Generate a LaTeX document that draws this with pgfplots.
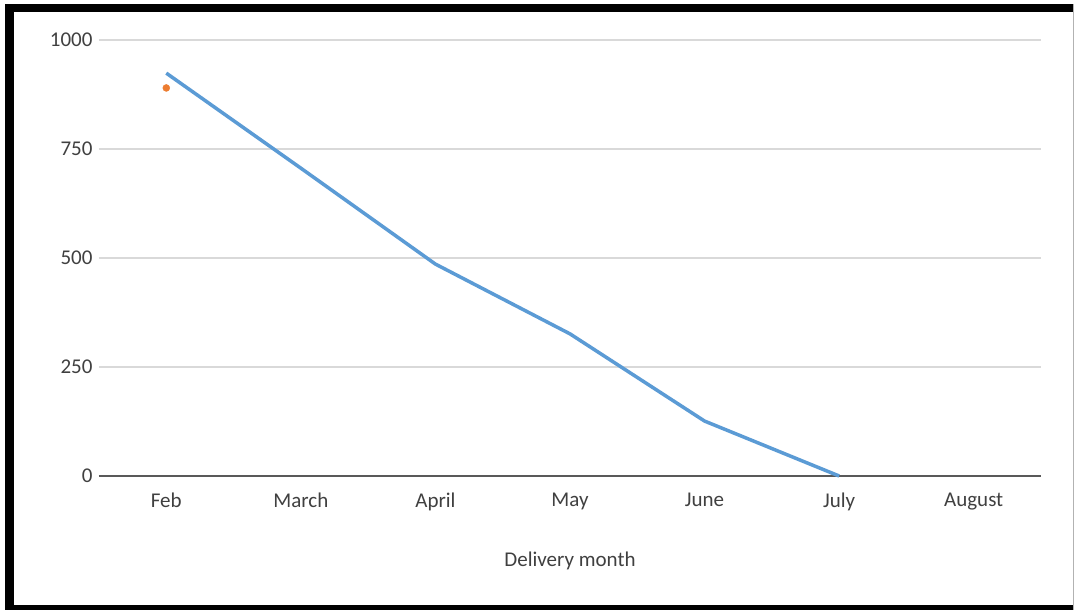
\documentclass[border=0pt]{standalone}
\usepackage{pgfplots}
\pgfplotsset{compat=1.18}
\usepackage{fontspec}
\setmainfont{Carlito}
\definecolor{lineblue}{RGB}{91,155,213}
\definecolor{dotorange}{RGB}{237,125,49}
\definecolor{gridgray}{RGB}{217,217,217}
\definecolor{axisgray}{RGB}{89,89,89}
\definecolor{textgray}{RGB}{64,64,64}
\begin{document}
\begin{tikzpicture}[x=1pt,y=1pt]
\fill[white] (0,0) rectangle (1074,610);
% frame
\fill[black] (5,0) rectangle (14,606);
\fill[black] (5,598) rectangle (1073,606);
\fill[black] (5,0) rectangle (1073,5);
\draw[gray!60, line width=1pt] (1073,0) -- (1073,606);
\begin{axis}[
  at={(99pt,134pt)}, anchor=south west,
  scale only axis,
  width=942pt, height=436pt,
  xmin=-0.5, xmax=6.5,
  ymin=0, ymax=1000,
  xtick={0,1,2,3,4,5,6},
  xticklabels={Feb,March,April,May,June,July,August},
  ytick={0,250,500,750,1000},
  ymajorgrids,
  grid style={gridgray, line width=1.2pt},
  axis line style={draw=none},
  major tick length=0pt,
  tick label style={font=\fontsize{21}{25}\selectfont, text=textgray},
  yticklabel style={xshift=-3pt},
  xticklabel style={yshift=-13pt},
  /pgf/number format/assume math mode=true,
  /pgf/number format/1000 sep={},
  xlabel={Delivery month},
  xlabel style={font=\fontsize{21}{25}\selectfont, text=textgray, yshift=-35pt},
  clip=false,
]
\draw[axisgray, line width=2pt] (axis cs:-0.5,0) -- (axis cs:6.5,0);
\addplot[lineblue, line width=3.5pt, line join=round, no marks] coordinates {
  (0,924) (1,706) (2,486) (3,326) (4,126) (5,0)
};
\addplot[only marks, mark=*, mark size=3.5pt, dotorange, draw=dotorange] coordinates {(0,890)};
\end{axis}
\end{tikzpicture}
\end{document}
